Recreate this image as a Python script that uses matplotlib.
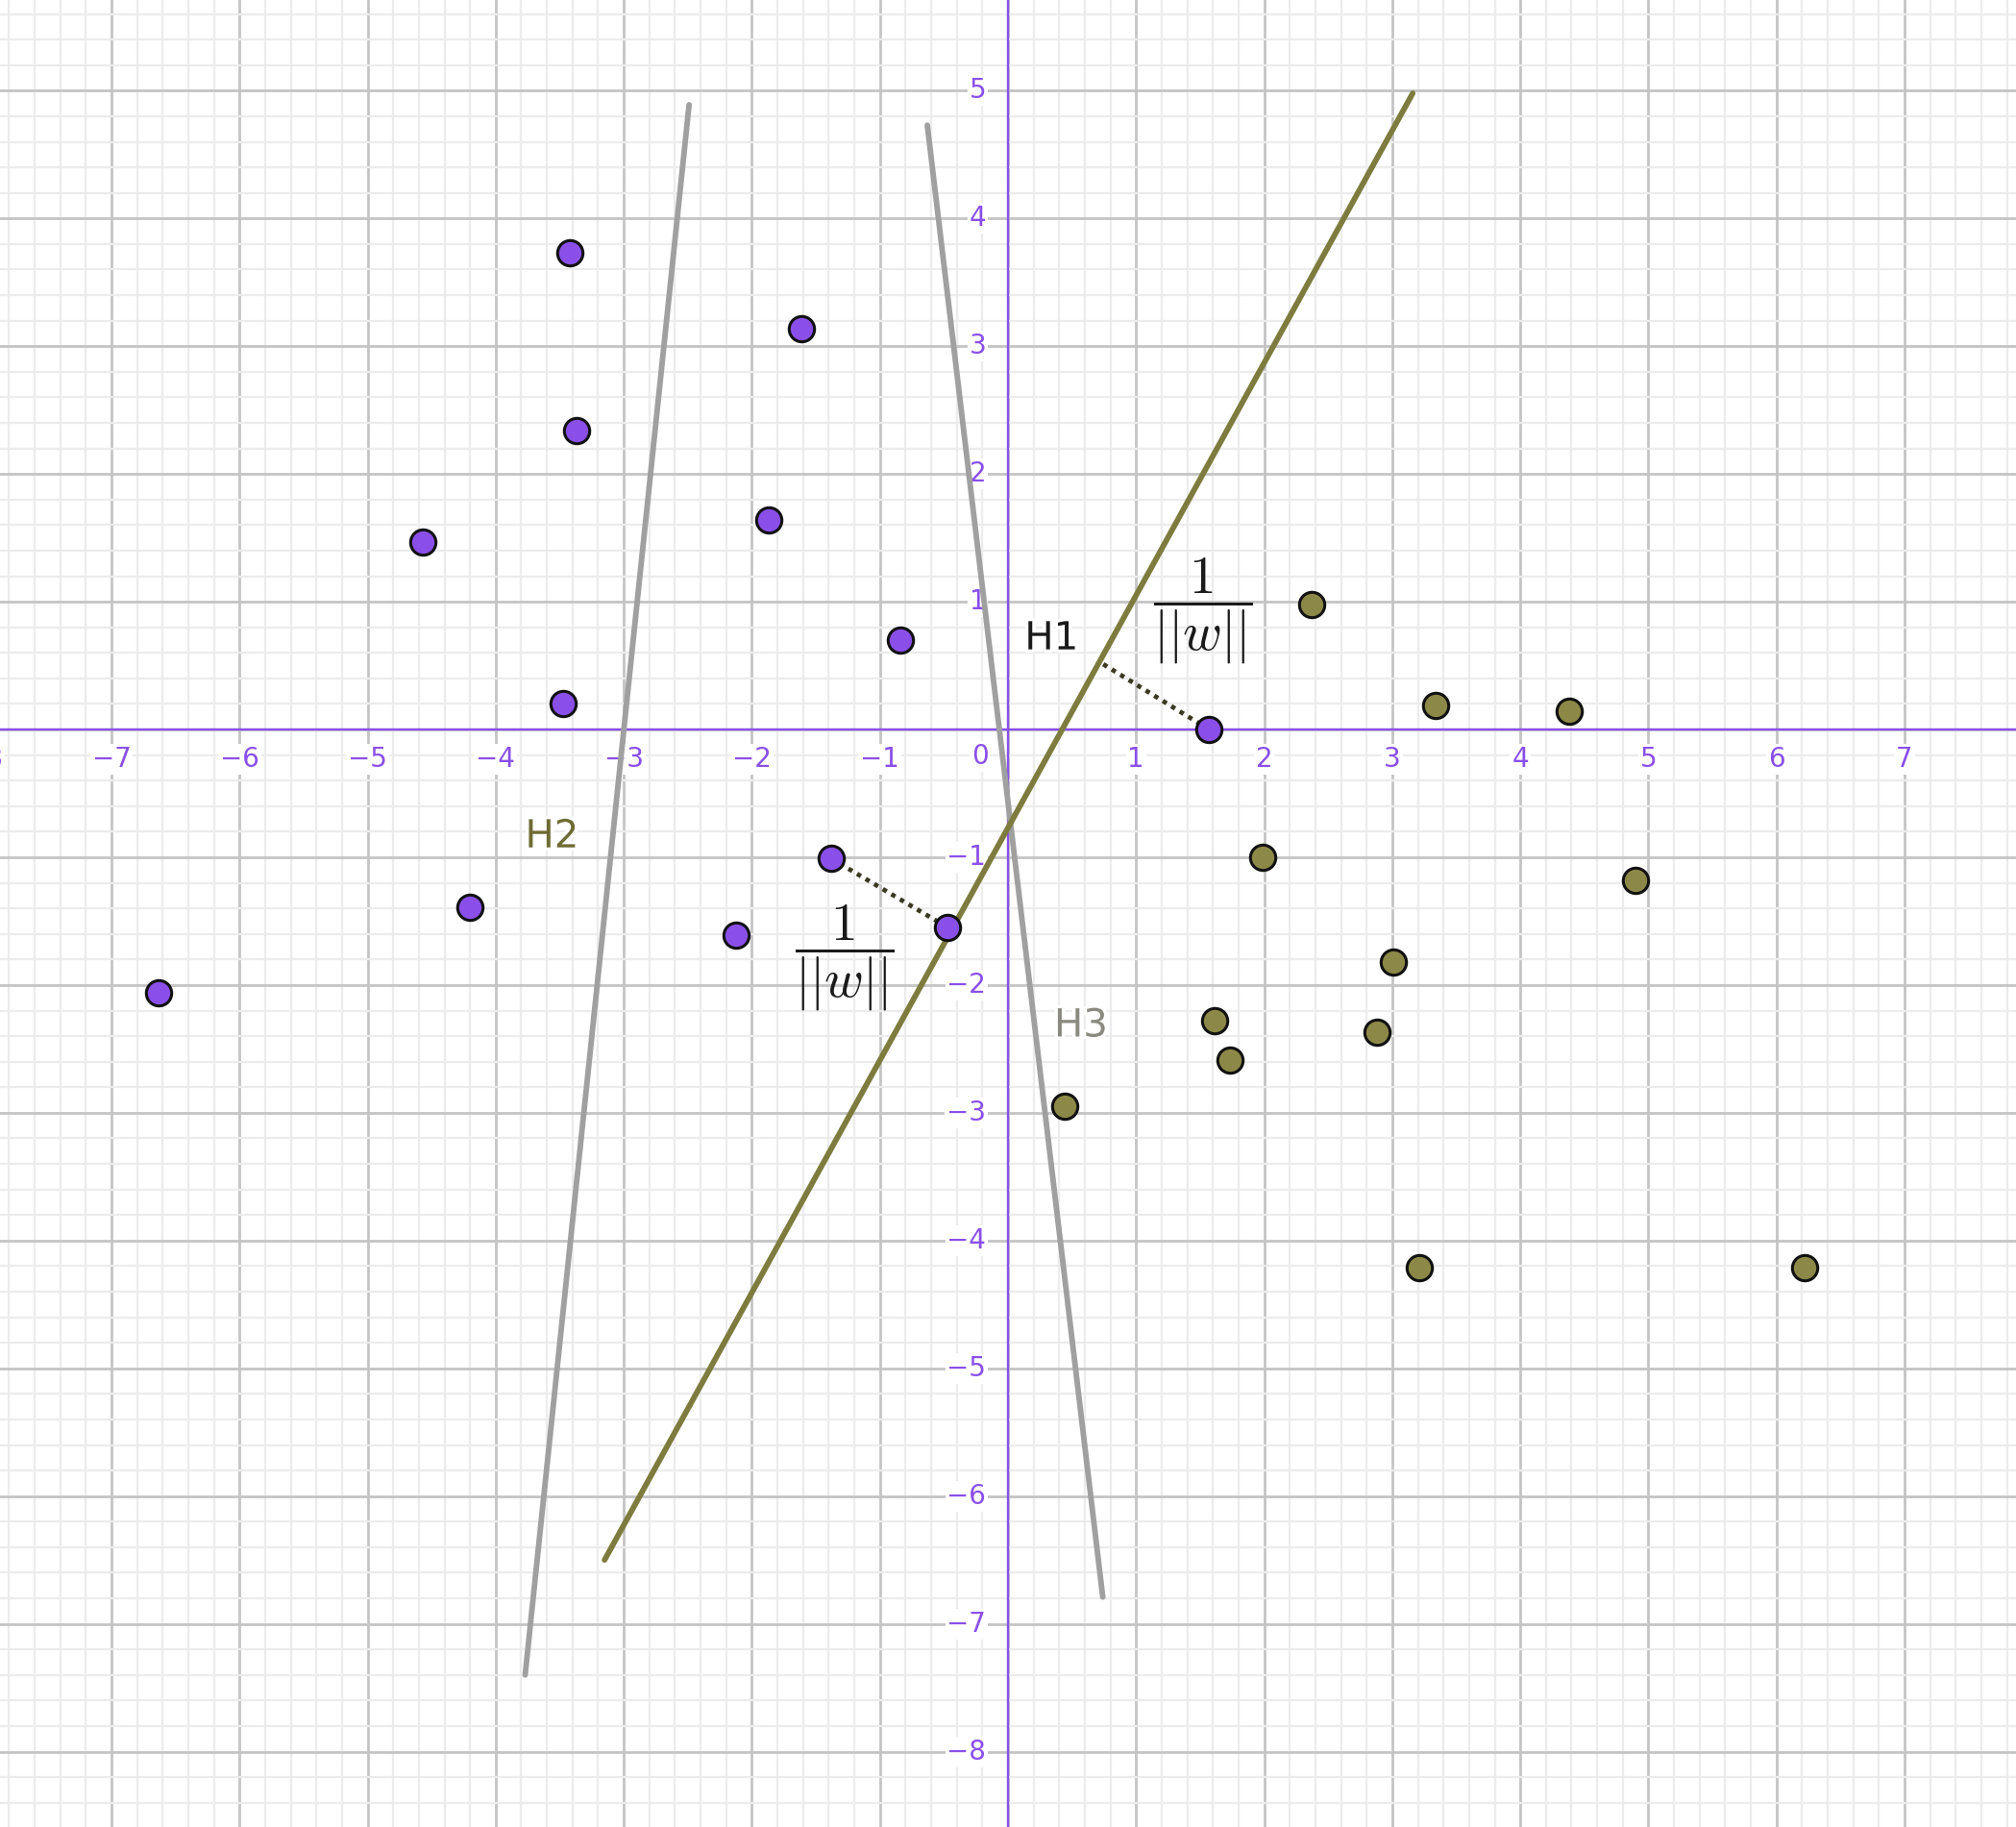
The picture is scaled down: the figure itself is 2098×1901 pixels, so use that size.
import numpy as np
import matplotlib
matplotlib.use("Agg")
import matplotlib.pyplot as plt
import matplotlib.patheffects as pe

# class A (purple) and class B (olive) points
purple_x = [-3.42, -1.61, -3.37, -4.57, -1.87, -0.84, -3.47, 1.57, -1.38, -0.47, -4.20, -2.12, -6.63]
purple_y = [3.73, 3.14, 2.34, 1.47, 1.64, 0.70, 0.20, 0.00, -1.01, -1.55, -1.39, -1.61, -2.06]
olive_x = [2.37, 3.34, 4.38, 1.99, 4.90, 3.01, 1.61, 1.73, 2.88, 0.44, 3.21, 6.22]
olive_y = [0.98, 0.19, 0.14, -1.00, -1.18, -1.82, -2.28, -2.59, -2.37, -2.95, -4.21, -4.21]

# separating lines (endpoints)
h1_x = [-3.15, 3.16]
h1_y = [-6.50, 4.98]
h2_x = [-3.77, -2.49]
h2_y = [-7.40, 4.89]
h3_x = [-0.63, 0.74]
h3_y = [4.73, -6.79]

# margin segments (support vector -> H1)
m1_x = [1.57, 0.73]
m1_y = [0.00, 0.52]
m2_x = [-1.38, -0.47]
m2_y = [-1.01, -1.55]

xlabels = [-8, -7, -6, -5, -4, -3, -2, -1, 1, 2, 3, 4, 5, 6, 7]
ylabels = [-8, -7, -6, -5, -4, -3, -2, -1, 1, 2, 3, 4, 5]

PURPLE = "#8a4fe8"
OLIVE = "#7d7b3e"
OLIVE_PT = "#8c8848"
GRAY = "#a0a0a0"

plt.rcParams["mathtext.fontset"] = "cm"

fig = plt.figure(figsize=(20.98, 19.01), dpi=100)
ax = fig.add_axes([0, 0, 1, 1])
ax.set_axisbelow(True)

ax.set_xticks(np.arange(-8, 9, 1))
ax.set_yticks(np.arange(-9, 6, 1))
ax.set_xticks(np.arange(-8, 8, 0.2), minor=True)
ax.set_yticks(np.arange(-9, 6, 0.2), minor=True)
ax.set_xlim(-7.87, 7.87)
ax.set_ylim(-8.59, 5.71)
ax.grid(which="minor", color="#ececec", lw=1.6)
ax.grid(which="major", color="#c4c4c4", lw=2.0)
ax.tick_params(which="both", length=0, labelbottom=False, labelleft=False)
for s in ax.spines.values():
    s.set_visible(False)

ax.axhline(0, color=PURPLE, lw=1.7, zorder=1.5)
ax.axvline(0, color=PURPLE, lw=1.7, zorder=1.5)

box = dict(facecolor="white", edgecolor="none", pad=1.5)
for v in xlabels:
    ax.text(v, -0.23, str(v).replace("-", "\u2212"), color=PURPLE, fontsize=20,
            ha="center", va="center", bbox=box, zorder=2)
for v in ylabels:
    ax.text(-0.17, v, str(v).replace("-", "\u2212"), color=PURPLE, fontsize=20,
            ha="right", va="center", bbox=box, zorder=2)
ax.text(-0.22, -0.21, "0", color=PURPLE, fontsize=20, ha="center", va="center",
        bbox=box, zorder=2)

ax.plot(h2_x, h2_y, color=GRAY, lw=4.2, solid_capstyle="round", zorder=3)
ax.plot(h3_x, h3_y, color=GRAY, lw=4.2, solid_capstyle="round", zorder=3)
ax.plot(h1_x, h1_y, color=OLIVE, lw=4.2, solid_capstyle="round", zorder=3)

ax.plot(m1_x, m1_y, color="#3a3a22", lw=3.4, ls=(0, (1, 1.2)), zorder=4)
ax.plot(m2_x, m2_y, color="#3a3a22", lw=3.4, ls=(0, (1, 1.2)), zorder=4)

ax.plot(purple_x, purple_y, "o", ms=19, mfc=PURPLE, mec="#111111", mew=2.2, zorder=5)
ax.plot(olive_x, olive_y, "o", ms=19, mfc=OLIVE_PT, mec="#111111", mew=2.2, zorder=5)

white = [pe.withStroke(linewidth=5, foreground="white")]
ax.text(0.34, 0.71, "H1", fontsize=29, color="#1a1a1a", ha="center", va="center",
        path_effects=white, zorder=6)
ax.text(-3.56, -0.84, "H2", fontsize=29, color="#6e6c34", ha="center", va="center",
        path_effects=white, zorder=6)
ax.text(0.57, -2.32, "H3", fontsize=29, color="#8a8a80", ha="center", va="center",
        path_effects=white, zorder=6)

frac = r"$\dfrac{1}{||w||}$"
ax.text(1.52, 0.93, frac, fontsize=40, color="#1a1a1a", ha="center", va="center", zorder=6)
ax.text(-1.28, -1.79, frac, fontsize=40, color="#1a1a1a", ha="center", va="center", zorder=6)

fig.savefig("out.png", dpi=100)
